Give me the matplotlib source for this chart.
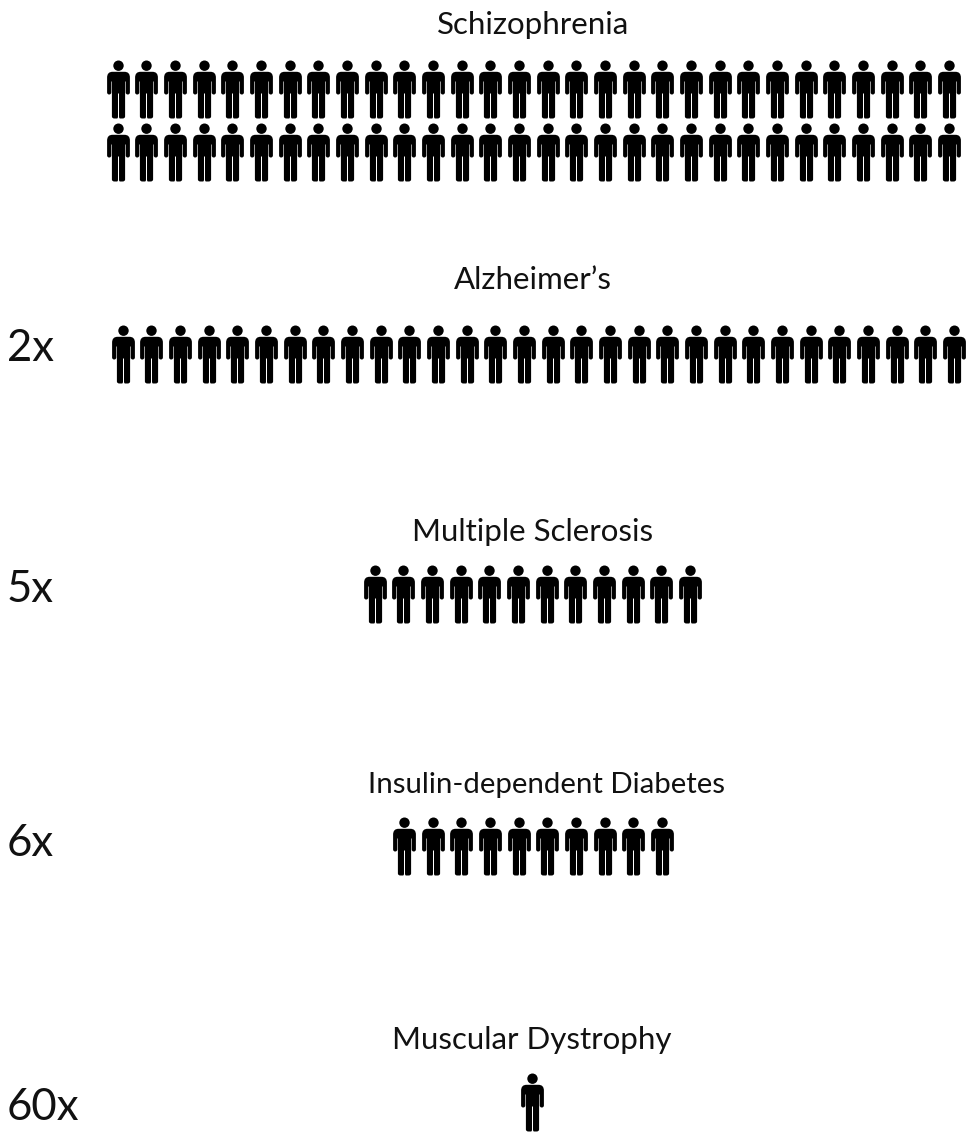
#!/usr/bin/env python3
import numpy as np
import matplotlib
matplotlib.use("Agg")
import matplotlib.pyplot as plt
from matplotlib.path import Path

diseases = ["Schizophrenia", "Alzheimer’s", "Multiple Sclerosis",
            "Insulin-dependent Diabetes", "Muscular Dystrophy"]
multipliers = ["", "2x", "5x", "6x", "60x"]
people = [60, 30, 12, 10, 1]

# layout, in pixels of the 969x1132 picture
per_row = 30
pitch = 28.66
row_gap = 63
first_row_y = [89.3, 354.3, 593.6, 846.3, 1102.2]
group_cx = [533.3, 538.4, 532.3, 533, 531.7]
title_x = [533, 533, 533, 547, 532]
title_base = [34, 289, 541, 793, 1049]
title_size = [22.5, 22.5, 22.5, 21.2, 22.5]
mult_base = [None, 361, 602, 856, 1120]


def person_marker():
    # outline drawn with y pointing up, centred on the origin, 58 units tall
    def p(x, y):
        return (x, 29 - y)
    verts = [p(-6, 11.3), p(6, 11.3), p(11.4, 11.3), p(11.4, 17), p(11.4, 32),
             p(11.4, 34), p(9.3, 34), p(7.2, 34), p(7.2, 32), p(7.2, 21),
             p(6.6, 21), p(6.6, 56), p(6.6, 58), p(4, 58), p(1.5, 58),
             p(0.5, 58), p(0.5, 56), p(0.5, 33), p(-0.5, 33), p(-0.5, 56),
             p(-0.5, 58), p(-1.5, 58), p(-4, 58), p(-6.6, 58), p(-6.6, 56),
             p(-6.6, 21), p(-7.2, 21), p(-7.2, 32), p(-7.2, 34), p(-9.3, 34),
             p(-11.4, 34), p(-11.4, 32), p(-11.4, 17), p(-11.4, 11.3), p(-6, 11.3),
             p(-6, 11.3)]
    L, C = Path.LINETO, Path.CURVE3
    codes = [Path.MOVETO, L, C, C, L, C, C, C, C, L,
             L, L, C, C, L, C, C, L, L, L,
             C, C, L, C, C, L, L, L, C, C,
             C, C, L, C, C, Path.CLOSEPOLY]
    body = Path(verts, codes)
    head = Path.circle((0, 29 - 5.2), 5.2)
    return Path.make_compound_path(body, head)


def main():
    fig = plt.figure(figsize=(9.69, 11.32), dpi=100)
    ax = fig.add_axes([0, 0, 1, 1])
    ax.set_xlim(0, 969)
    ax.set_ylim(1132, 0)
    ax.axis("off")

    marker = person_marker()
    size = (58 * 0.72) ** 2
    font = ["Lato", "DejaVu Sans"]

    for i, name in enumerate(diseases):
        n = people[i]
        idx = np.arange(n)
        in_row = min(n, per_row)
        xs = group_cx[i] + (idx % per_row - (in_row - 1) / 2) * pitch
        ys = first_row_y[i] + (idx // per_row) * row_gap
        ax.scatter(xs, ys, s=size, marker=marker, c="k", linewidths=0)
        ax.text(title_x[i], title_base[i], name, fontsize=title_size[i],
                family=font, ha="center", va="baseline", color="#111111")
        if multipliers[i]:
            ax.text(7, mult_base[i], multipliers[i], fontsize=31.5,
                    family=font, ha="left", va="baseline", color="#111111")

    fig.savefig("out.png", dpi=100)


if __name__ == "__main__":
    main()
